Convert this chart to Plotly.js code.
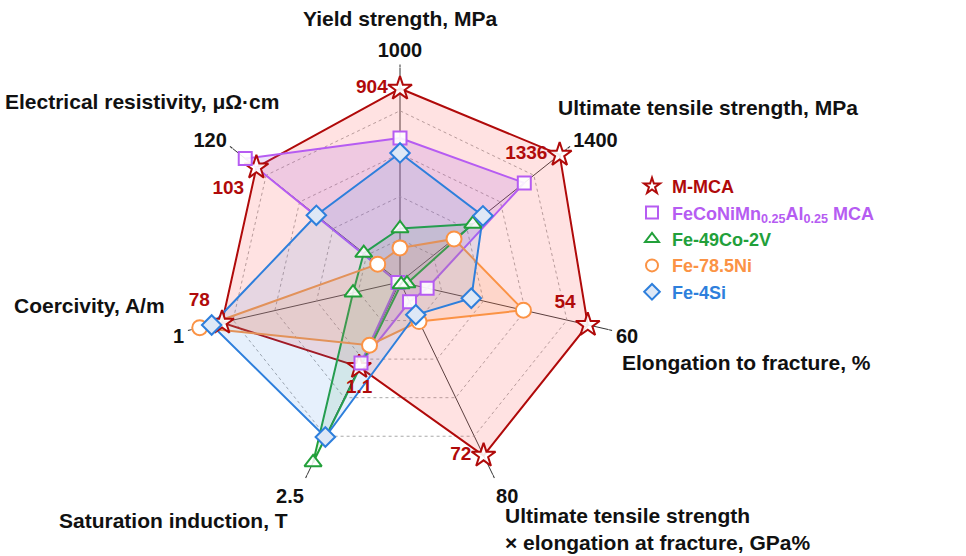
<!DOCTYPE html>
<html>
<head>
<meta charset="utf-8">
<script src="https://cdn.plot.ly/plotly-3.0.1.min.js"></script>
<style>html,body{margin:0;padding:0;background:#fff;}#chart{width:966px;height:556px;}</style>
</head>
<body>
<div id="chart"></div>
<script>
// ---- data ----
const categories = ['Yield strength', 'Ultimate tensile strength', 'Elongation to fracture',
  'UTS x elongation', 'Saturation induction', 'Coercivity', 'Electrical resistivity'];
const tickLabels = ['1000', '1400', '60', '80', '2.5', '1', '120'];
const axisOuter = [1000, 1400, 60, 80, 2.5, 1, 120];   // value at outer vertex
const axisCenter = [0, 0, 0, 0, 0, 525, 0];             // value at centre (coercivity reversed)
const seriesNames = ['M-MCA', 'FeCoNiMn<sub>0.25</sub>Al<sub>0.25</sub> MCA', 'Fe-49Co-2V', 'Fe-78.5Ni', 'Fe-4Si'];
const mMCA      = [904, 1336, 54, 72, 1.1, 78, 103];
const feCoNiMn  = [673, 1040, 7.8, 8.2, 1.05, 520, 111];
const fe49Co2V  = [250, 609, 2.0, 1.0, 2.34, 407, 26];
const fe785Ni   = [159, 452, 35.5, 16.4, 0.82, 22, 16];
const fe4Si     = [603, 694, 20.5, 13.6, 2.01, 52, 60];
const mMCALabels = ['904', '1336', '54', '72', '1.1', '78', '103'];

// ---- styles ----
const lineColors = ['#b00a0a', '#b65cf2', '#22a03a', '#fb9345', '#2e7fdc'];
const fillColors = ['rgba(255,110,110,0.20)', 'rgba(160,80,220,0.17)', 'rgba(40,160,60,0.10)',
  'rgba(250,140,60,0.14)', 'rgba(60,140,230,0.13)'];
const symbols = ['star', 'square', 'triangle-up', 'circle', 'diamond'];
const mSizes = [18, 13, 15, 15, 15];
const mFill = ['rgba(255,255,255,0.9)', 'rgba(255,255,255,0.9)', 'rgba(255,255,255,0.85)',
  'rgba(255,255,255,1)', 'rgba(222,232,246,1)'];
const allSeries = [mMCA, feCoNiMn, fe49Co2V, fe785Ni, fe4Si];
const FONT = 'Liberation Sans, Arial, sans-serif';

function norm(vals) {
  return vals.map((v, i) => (v - axisCenter[i]) / (axisOuter[i] - axisCenter[i]));
}
function close(a) { return a.concat([a[0]]); }

const traces = [];
allSeries.forEach((s, k) => {
  traces.push({
    type: 'scatterpolar', mode: 'lines', fill: 'toself',
    r: close(norm(s)), theta: close(categories),
    line: {color: lineColors[k], width: 2}, fillcolor: fillColors[k],
    showlegend: false, hoverinfo: 'skip'
  });
});
const textPos = ['middle left', 'middle left', 'top left', 'middle left', 'bottom center', 'top left', 'bottom left'];
allSeries.forEach((s, k) => {
  const t = {
    type: 'scatterpolar', mode: 'markers',
    r: norm(s), theta: categories,
    name: '<span style="color:' + lineColors[k] + '">' + seriesNames[k] + '</span>',
    marker: {symbol: symbols[k], size: mSizes[k], color: mFill[k],
      line: {color: lineColors[k], width: 2}}
  };
  if (k === 0) {
    t.mode = 'markers+text';
    t.text = mMCALabels;
    t.textposition = textPos;
    t.textfont = {family: FONT, size: 19, color: lineColors[0], weight: 'bold'};
  }
  traces.push(t);
});

const W = 966, H = 556;
function ann(text, px, py, xanchor) {
  return {
    text: text, xref: 'paper', yref: 'paper', x: px / W, y: 1 - py / H,
    xanchor: xanchor, yanchor: 'middle', showarrow: false, align: 'left',
    font: {family: FONT, size: 21, color: '#111', weight: 'bold'}
  };
}

const layout = {
  width: W, height: H,
  margin: {l: 0, r: 0, t: 0, b: 0},
  paper_bgcolor: '#fff',
  font: {family: FONT, color: '#111'},
  polar: {
    domain: {x: [186 / W, 614 / W], y: [1 - 496 / H, 1 - 68 / H]},
    gridshape: 'linear', bgcolor: 'rgba(0,0,0,0)',
    angularaxis: {
      type: 'category', direction: 'clockwise', rotation: 90,
      categoryarray: categories, tickmode: 'array', tickvals: categories, ticktext: tickLabels,
      showgrid: true, gridcolor: '#333', gridwidth: 1, showline: false,
      ticks: 'outside', ticklen: 3, tickcolor: '#333',
      tickfont: {family: FONT, size: 20, color: '#111', weight: 'bold'}
    },
    radialaxis: {
      range: [0, 1], tickmode: 'array', tickvals: [0.2, 0.4, 0.6, 0.8, 1.0],
      showticklabels: false, ticks: '', showline: false,
      gridcolor: '#a8a8a8', gridwidth: 1, griddash: '3px,3px'
    }
  },
  legend: {
    x: 632 / W, y: 1 - 168 / H, xanchor: 'left', yanchor: 'top',
    bgcolor: 'rgba(0,0,0,0)', itemsizing: 'constant',
    font: {family: FONT, size: 18, weight: 'bold'}
  },
  annotations: [
    ann('Yield strength, MPa', 400, 18, 'center'),
    ann('Ultimate tensile strength, MPa', 556, 107, 'left'),
    ann('Elongation to fracture, %', 620, 362, 'left'),
    ann('Ultimate tensile strength<br>× elongation at fracture, GPa%', 503, 529, 'left'),
    ann('Saturation induction, T', 57, 520, 'left'),
    ann('Coercivity, A/m', 12, 305, 'left'),
    ann('Electrical resistivity, μΩ·cm', 3, 102, 'left')
  ]
};

Plotly.newPlot('chart', traces, layout, {displayModeBar: false, staticPlot: true});
</script>
</body>
</html>
